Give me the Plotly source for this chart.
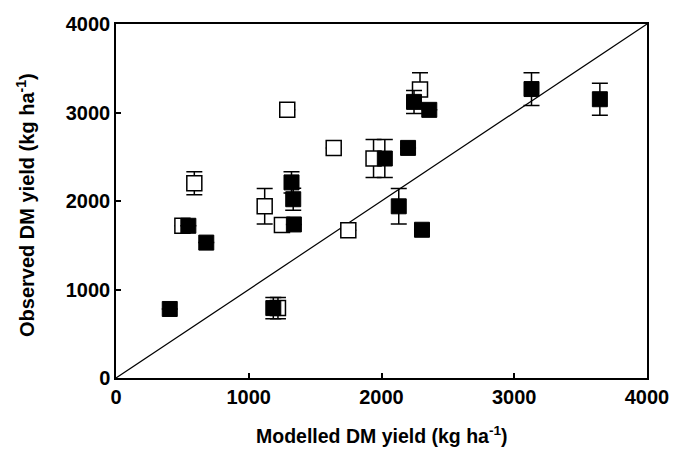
import plotly.graph_objects as go

# Open squares
open_x = [590, 500, 1120, 1250, 1290, 1640, 1750, 1940, 1220, 2290]
open_y = [2200, 1720, 1940, 1730, 3030, 2600, 1670, 2480, 790, 3260]
open_err = [130, None, 200, None, None, None, None, 215, 120, 190]

# Filled squares
fill_x = [405, 545, 680, 1185, 1322, 1335, 1340, 2025, 2130, 2200, 2245, 2360, 2305, 3130, 3645]
fill_y = [780, 1720, 1530, 790, 2210, 2020, 1735, 2480, 1940, 2600, 3120, 3030, 1675, 3265, 3150]
fill_err = [None, None, None, 120, 120, 125, None, 215, 200, None, 130, None, None, 185, 180]

line_x = [0, 4000]
line_y = [0, 4000]

ticks = [0, 1000, 2000, 3000, 4000]
x_title = "<b>Modelled DM yield (kg ha<sup>-1</sup>)</b>"
y_title = "<b>Observed DM yield (kg ha<sup>-1</sup>)</b>"

FONT = "Liberation Sans, Arial"

fig = go.Figure()
fig.add_trace(go.Scatter(x=line_x, y=line_y, mode="lines",
                         line=dict(color="black", width=1.2), hoverinfo="skip"))
fig.add_trace(go.Scatter(
    x=open_x, y=open_y, mode="markers",
    marker=dict(symbol="square", size=15, color="white", line=dict(color="black", width=1.5)),
    error_y=dict(type="data", array=open_err, visible=True, color="black", thickness=1.5, width=8),
))
fig.add_trace(go.Scatter(
    x=fill_x, y=fill_y, mode="markers",
    marker=dict(symbol="square", size=15, color="black", line=dict(color="black", width=1)),
    error_y=dict(type="data", array=fill_err, visible=True, color="black", thickness=1.5, width=8),
))

axis_common = dict(
    range=[0, 4000], tickvals=ticks, ticktext=["<b>%d</b>" % t for t in ticks],
    showgrid=False, zeroline=False, showline=True, linecolor="black", linewidth=1.5,
    mirror=True, ticks="inside", ticklen=5, tickwidth=1.5, tickcolor="black",
    tickfont=dict(family=FONT, size=20, color="black"),
    automargin=False,
)

fig.update_layout(
    width=673, height=450,
    margin=dict(l=116, r=26, t=24, b=72),
    paper_bgcolor="white", plot_bgcolor="white",
    showlegend=False,
    font=dict(family=FONT, color="black"),
    xaxis=dict(**axis_common),
    yaxis=dict(**axis_common),
    annotations=[
        dict(text=x_title, xref="paper", yref="paper", x=0.5, y=0,
             xanchor="center", yanchor="middle", yshift=-57, showarrow=False,
             font=dict(family=FONT, size=19.5, color="black")),
        dict(text=y_title, xref="paper", yref="paper", x=0, y=0.5,
             xanchor="center", yanchor="middle", xshift=-91, yshift=-4, textangle=-90,
             showarrow=False, font=dict(family=FONT, size=20, color="black")),
    ],
)

fig.write_html("out.html")
